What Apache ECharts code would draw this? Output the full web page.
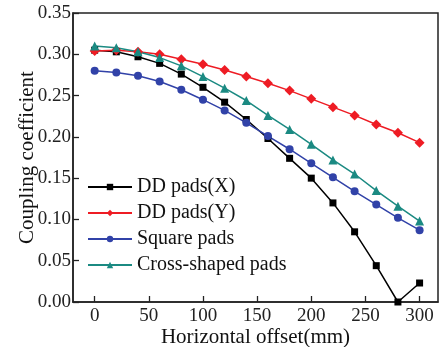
<!DOCTYPE html>
<html>
<head>
<meta charset="utf-8">
<script src="https://cdn.jsdelivr.net/npm/echarts@6/dist/echarts.min.js"></script>
<style>html,body{margin:0;padding:0;background:#fff;}#c{width:443px;height:347px;}</style>
</head>
<body>
<div id="c"></div>
<script>
const offsets = [0, 20, 40, 60, 80, 100, 120, 140, 160, 180, 200, 220, 240, 260, 280, 300];
const ddX = [0.305, 0.303, 0.297, 0.289, 0.276, 0.260, 0.242, 0.221, 0.198, 0.174, 0.150, 0.120, 0.085, 0.044, 0.000, 0.023];
const ddY = [0.304, 0.305, 0.303, 0.300, 0.294, 0.288, 0.281, 0.273, 0.265, 0.256, 0.246, 0.236, 0.226, 0.215, 0.205, 0.193];
const square = [0.280, 0.278, 0.274, 0.267, 0.257, 0.245, 0.232, 0.217, 0.201, 0.185, 0.168, 0.151, 0.134, 0.118, 0.102, 0.087];
const cross = [0.310, 0.308, 0.303, 0.296, 0.286, 0.273, 0.259, 0.244, 0.226, 0.209, 0.191, 0.172, 0.155, 0.135, 0.116, 0.098];
const xTicks = [0, 50, 100, 150, 200, 250, 300];
const seriesNames = ['DD pads(X)', 'DD pads(Y)', 'Square pads', 'Cross-shaped pads'];

const FONT = "'Liberation Serif', 'Times New Roman', serif";
const pairs = arr => offsets.map((x, i) => [x, arr[i]]);

const chart = echarts.init(document.getElementById('c'), null, {renderer: 'canvas'});
const mk = (name, data, color, symbol, size) => ({
  name, type: 'line', data: pairs(data), symbol, symbolSize: size,
  lineStyle: {color, width: 1.5}, itemStyle: {color}, color, z: 3
});
chart.setOption({
  animation: false,
  backgroundColor: '#fff',
  grid: {left: 73, right: 5, top: 13, bottom: 45, containLabel: false, outerBoundsMode: 'none', show: true, borderColor: '#222', borderWidth: 1.5, backgroundColor: 'transparent'},
  legend: {
    orient: 'vertical', left: 82, top: 172, itemWidth: 44, itemHeight: 8, itemGap: 6,
    textStyle: {fontFamily: FONT, fontSize: 20, color: '#111'},
    data: seriesNames
  },
  xAxis: {
    type: 'value', min: -20, max: 317,
    name: 'Horizontal offset(mm)', nameLocation: 'middle', nameGap: 25, nameMoveOverlap: false,
    nameTextStyle: {fontFamily: FONT, fontSize: 21, color: '#111'},
    axisLine: {show: true, onZero: false, lineStyle: {color: '#222', width: 1.5}},
    axisTick: {show: true, inside: true, length: 6, customValues: xTicks, lineStyle: {color: '#222', width: 1.3}},
    axisLabel: {customValues: xTicks, fontFamily: FONT, fontSize: 19, color: '#222', margin: 5},
    splitLine: {show: false}
  },
  yAxis: {
    type: 'value', min: 0, max: 0.35, interval: 0.05,
    name: 'Coupling coefficient', nameLocation: 'middle', nameGap: 35, nameMoveOverlap: false,
    nameTextStyle: {fontFamily: FONT, fontSize: 21, color: '#111'},
    axisLine: {show: true, onZero: false, lineStyle: {color: '#222', width: 1.5}},
    axisTick: {show: true, inside: true, length: 6, lineStyle: {color: '#222', width: 1.3}},
    axisLabel: {fontFamily: FONT, fontSize: 19, color: '#222', margin: 2, formatter: v => v.toFixed(2)},
    splitLine: {show: false}
  },
  series: [
    mk(seriesNames[0], ddX, '#000000', 'rect', 7),
    mk(seriesNames[1], ddY, '#ee1c24', 'diamond', 10),
    mk(seriesNames[2], square, '#3142a8', 'circle', 8),
    mk(seriesNames[3], cross, '#1b8a82', 'triangle', 9)
  ]
});
</script>
</body>
</html>
